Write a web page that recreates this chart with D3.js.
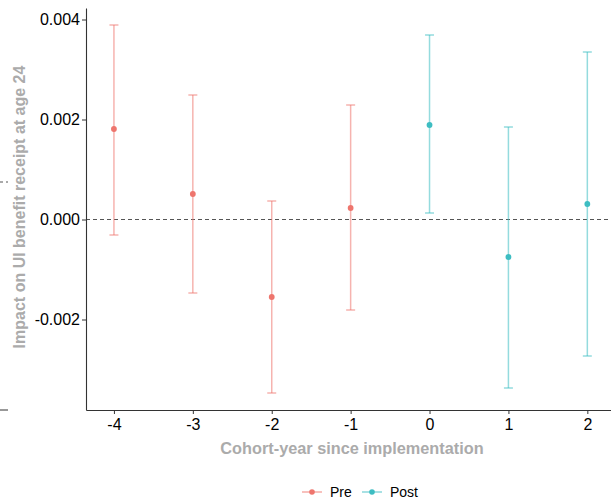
<!DOCTYPE html>
<html><head><meta charset="utf-8">
<script src="https://cdn.jsdelivr.net/npm/d3@7"></script>
<style>body{margin:0;background:#fff}svg{display:block}</style>
</head><body>
<script>
const periods = [-4, -3, -2, -1, 0, 1, 2];
const groups = ["Pre", "Pre", "Pre", "Pre", "Post", "Post", "Post"];
const estimates = [0.00181, 0.00051, -0.00155, 0.00023, 0.00189, -0.00075, 0.00031];
const lowers = [-0.00031, -0.00147, -0.00347, -0.00181, 0.00013, -0.00337, -0.00273];
const uppers = [0.00389, 0.00249, 0.00037, 0.00229, 0.00369, 0.00185, 0.00335];
const yTicks = [-0.002, 0, 0.002, 0.004];
const xTicks = [-4, -3, -2, -1, 0, 1, 2];
const legendLabels = ["Pre", "Post"];

const W = 611, H = 504;
const svg = d3.select("body").append("svg").attr("width", W).attr("height", H);
const font = "Liberation Sans, Arial, sans-serif";

const x = d3.scaleLinear().domain([-4.354, 2.3]).range([86, 611]);
const y = d3.scaleLinear().domain([-0.00381, 0.00423]).range([410, 8]);
const color = d3.scaleOrdinal().domain(legendLabels).range(["#EE756D", "#3DBDC2"]);

// fragment of neighbouring panel at far left
svg.append("line").attr("x1", 0).attr("x2", 8).attr("y1", 182).attr("y2", 182)
  .attr("stroke", "#555").attr("stroke-dasharray", "3,3");
svg.append("line").attr("x1", 0).attr("x2", 8).attr("y1", 410).attr("y2", 410)
  .attr("stroke", "#333").attr("stroke-width", 1);

// zero reference line
svg.append("line").attr("x1", 86).attr("x2", W).attr("y1", y(0)).attr("y2", y(0))
  .attr("stroke", "#555").attr("stroke-width", 1.1).attr("stroke-dasharray", "4,3");

// axes
const fmt = d3.format(".3f");
const yAxis = svg.append("g").attr("transform", "translate(86,0)")
  .call(d3.axisLeft(y).tickValues(yTicks).tickFormat(d => d < 0 ? "-" + fmt(-d) : fmt(d)).tickSize(4).tickSizeOuter(0));
const xAxis = svg.append("g").attr("transform", "translate(0,410)")
  .call(d3.axisBottom(x).tickValues(xTicks).tickFormat(d => d < 0 ? "-" + (-d) : String(d)).tickSize(4).tickSizeOuter(0));
[yAxis, xAxis].forEach(g => {
  g.select(".domain").attr("stroke", "#333").attr("stroke-width", 1.1);
  g.selectAll(".tick line").attr("stroke", "#333");
  g.selectAll(".tick text").attr("fill", "#000").attr("font-family", font).attr("font-size", 16);
});
yAxis.selectAll(".tick text").attr("x", -6);
xAxis.selectAll(".tick text").attr("y", 9);

const data = periods.map((p, i) => ({p, g: groups[i], e: estimates[i], lo: lowers[i], hi: uppers[i]}));

const bars = svg.append("g").selectAll("g").data(data).join("g")
  .attr("stroke", d => color(d.g)).attr("stroke-opacity", 0.55).attr("stroke-width", 1.5);
bars.append("line").attr("x1", d => x(d.p)).attr("x2", d => x(d.p))
  .attr("y1", d => y(d.lo)).attr("y2", d => y(d.hi));
bars.append("line").attr("x1", d => x(d.p) - 4.5).attr("x2", d => x(d.p) + 4.5)
  .attr("y1", d => y(d.lo)).attr("y2", d => y(d.lo));
bars.append("line").attr("x1", d => x(d.p) - 4.5).attr("x2", d => x(d.p) + 4.5)
  .attr("y1", d => y(d.hi)).attr("y2", d => y(d.hi));
svg.append("g").selectAll("circle").data(data).join("circle")
  .attr("cx", d => x(d.p)).attr("cy", d => y(d.e)).attr("r", 2.9)
  .attr("fill", d => color(d.g));

// axis titles
svg.append("text").attr("x", 352).attr("y", 454).attr("text-anchor", "middle")
  .attr("font-family", font).attr("font-weight", "bold").attr("font-size", 16.3)
  .attr("fill", "#ababab").text("Cohort-year since implementation");
svg.append("text").attr("transform", "translate(25,207) rotate(-90)").attr("text-anchor", "middle")
  .attr("font-family", font).attr("font-weight", "bold").attr("font-size", 16)
  .attr("fill", "#ababab").text("Impact on UI benefit receipt at age 24");

// legend
const leg = svg.append("g").selectAll("g").data(legendLabels).join("g")
  .attr("transform", (d, i) => `translate(${[302, 362][i]},492)`);
leg.append("line").attr("x1", 0).attr("x2", 20).attr("stroke", d => color(d))
  .attr("stroke-opacity", 0.6).attr("stroke-width", 1.5);
leg.append("circle").attr("cx", 10).attr("r", 2.8).attr("fill", d => color(d));
leg.append("text").attr("x", 28).attr("y", 5).attr("font-family", font).attr("font-size", 14)
  .attr("fill", "#000").text(d => d);
</script>
</body></html>
